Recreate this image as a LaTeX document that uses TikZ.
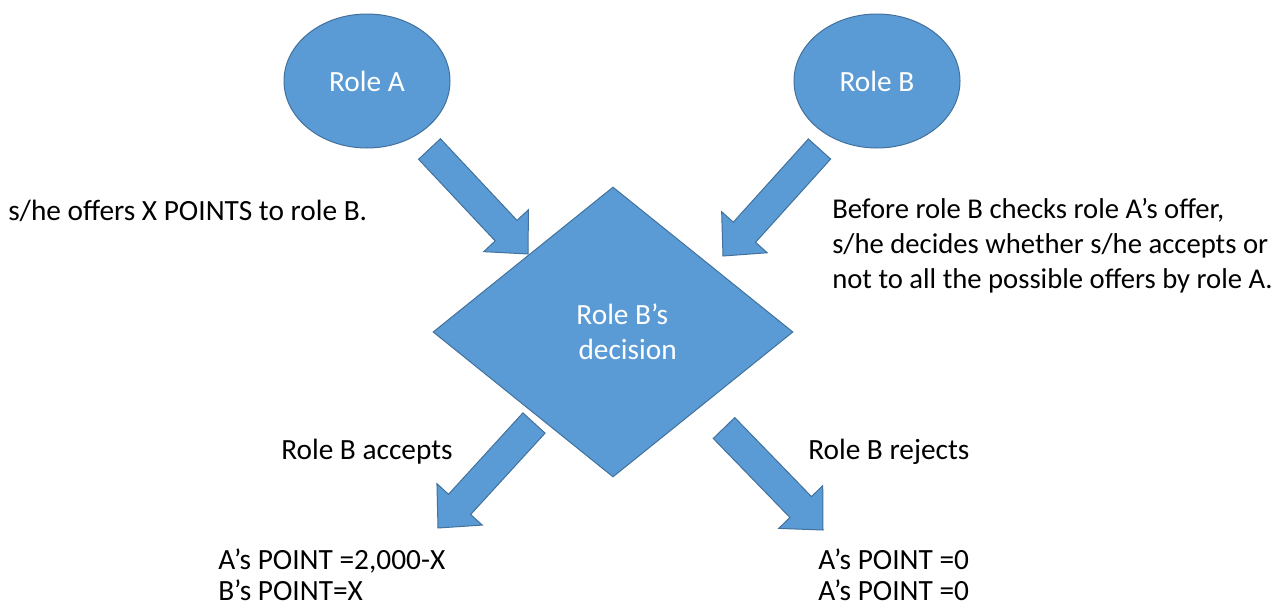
\documentclass[tikz,border=0pt]{standalone}
\usepackage{fontspec}
\setmainfont{Carlito}
\usetikzlibrary{shapes.geometric,calc}
\definecolor{fillblue}{HTML}{5B9BD5}
\definecolor{edgeblue}{HTML}{41719C}
\tikzset{
  shapebox/.style={fill=fillblue, draw=edgeblue, line width=0.75pt, text=white, font=\fontsize{22}{26.25}\selectfont, align=center},
  barrow/.style={fill=fillblue, draw=edgeblue, line width=0.75pt, line join=miter},
  txt/.style={inner sep=0pt, anchor=west, align=left, text=black},
  bigtxt/.style={txt, font=\fontsize{22}{26.25}\selectfont},
  righttxt/.style={txt, font=\fontsize{21.5}{26.25}\selectfont},
  smalltxt/.style={txt, font=\fontsize{22}{23.25}\selectfont},
}
\begin{document}
\begin{tikzpicture}[x=0.75pt, y=-0.75pt]
\useasboundingbox (0,0) rectangle (1279,603);
\node[shapebox, ellipse, minimum width=124.5pt, minimum height=100.5pt, inner sep=0pt] (ra) at (367,81) {Role A};
\node[shapebox, ellipse, minimum width=124.5pt, minimum height=100.5pt, inner sep=0pt] (rb) at (877,81) {Role B};
\node[shapebox, diamond, minimum width=270pt, minimum height=217.5pt, inner sep=0pt] (dec) at (613,332) {\hspace*{14pt}Role B’s\\\hspace*{22pt}decision};

\coordinate (t1) at (429.5,149); \coordinate (h1) at (528,254);
\coordinate (t2) at (819.5,149); \coordinate (h2) at (723,256);
\coordinate (t3) at (534,423);   \coordinate (h3) at (438,528);
\coordinate (t4) at (724,428);   \coordinate (h4) at (823,530);
\foreach \a/\b in {t1/h1,t2/h2,t3/h3,t4/h4}{
  \coordinate (\a m) at ($(\b)!24pt!(\a)$);
  \filldraw[barrow] ($(\a)!11.25pt!90:(\b)$) -- ($(\a m)!11.25pt!90:(\b)$) -- ($(\a m)!23pt!90:(\b)$) -- (\b)
     -- ($(\a m)!23pt!-90:(\b)$) -- ($(\a m)!11.25pt!-90:(\b)$) -- ($(\a)!11.25pt!-90:(\b)$) -- cycle;
}

\node[bigtxt] (l1) at (8,211) {s/he offers X POINTS to role B.};
\node[righttxt] (r1) at (832,246) {Before role B checks role A’s offer,\\s/he decides whether s/he accepts or\\not to all the possible offers by role A.};
\node[bigtxt] (acc) at (281,452) {Role B accepts};
\node[bigtxt] (rej) at (808,452) {Role B rejects};
\node[smalltxt] (pa) at (218,574.5) {A’s POINT =2,000-X\\B’s POINT=X};
\node[smalltxt] (pb) at (818,574.5) {A’s POINT =0\\A’s POINT =0};
\end{tikzpicture}
\end{document}
